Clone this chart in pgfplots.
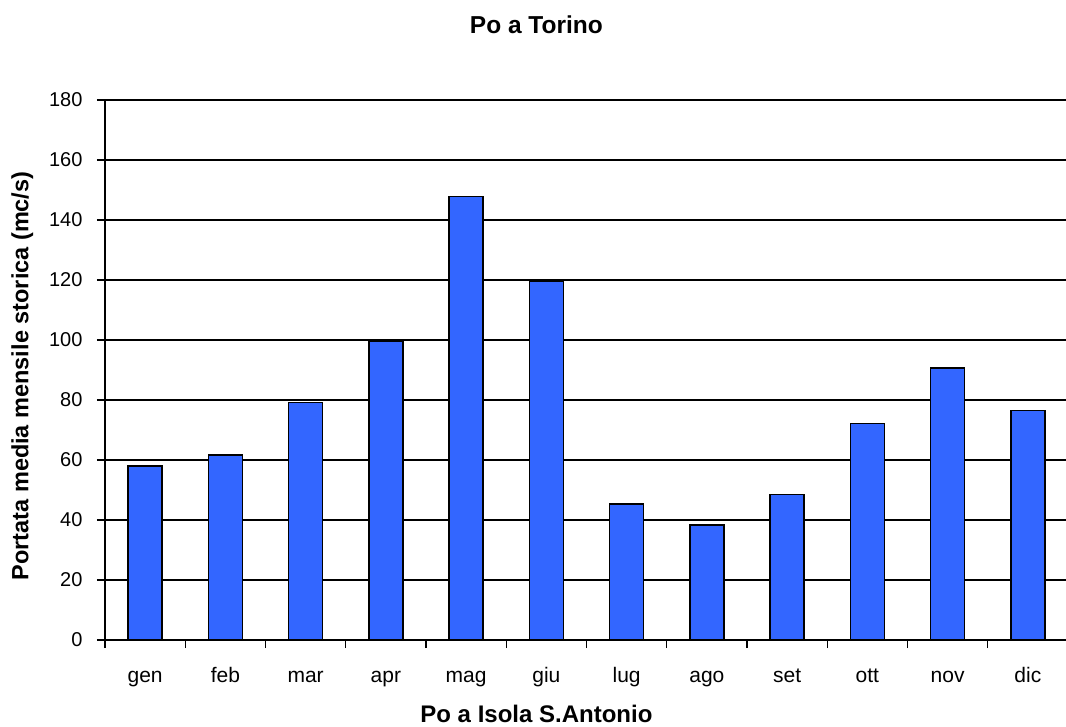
\documentclass[border=0pt]{standalone}
\usepackage{fontspec}
\setmainfont{Liberation Sans}
\usepackage{pgfplots}
\pgfplotsset{compat=1.18}
\definecolor{barblue}{HTML}{3366FF}
\begin{document}
\begin{tikzpicture}
\path[use as bounding box] (-105pt,-86pt) rectangle (961pt,640pt);
\begin{axis}[
  at={(0pt,0pt)}, anchor=south west,
  scale only axis, width=963pt, height=540pt,
  xmin=0.5, xmax=12.5, ymin=0, ymax=180,
  ytick={0,20,...,180},
  xtick={1,...,12},
  xticklabels={gen,feb,mar,apr,mag,giu,lug,ago,set,ott,nov,dic},
  minor xtick={0.5,1.5,...,12.5},
  major x tick style={draw=none},
  tick align=outside,
  major tick length=8pt, minor tick length=8pt,
  tick style={black, line width=1.2pt},
  axis x line*=bottom, axis y line*=left,
  axis line style={black, line width=1.5pt, -},
  ymajorgrids, grid style={black, line width=1.3pt},
  /pgf/number format/assume math mode=true,
  xticklabel style={font=\fontsize{21}{24}\selectfont, anchor=base, yshift=-34pt},
  yticklabel style={font=\fontsize{20}{24}\selectfont, xshift=-11pt},
  title={\textbf{Po a Torino}},
  title style={at={(axis description cs:0.448,1)}, anchor=center, yshift=69pt, font=\fontsize{24.5}{28}\selectfont},
  xlabel={\textbf{Po a Isola S.Antonio}},
  xlabel style={at={(axis description cs:0.448,0)}, anchor=center, yshift=-74pt, font=\fontsize{24}{28}\selectfont},
  ylabel={\textbf{Portata media mensile storica (mc/s)}},
  ylabel style={at={(axis description cs:-0.086,0.489)}, anchor=center, font=\fontsize{23.5}{28}\selectfont},
  clip=false,
]
\addplot[ybar, bar width=34pt, fill=barblue, draw=black, line width=1.4pt]
  coordinates {(1,58) (2,61.6) (3,79.1) (4,99.4) (5,147.8) (6,119.6) (7,45.4) (8,38.3) (9,48.5) (10,72.2) (11,90.7) (12,76.4)};
\end{axis}
\end{tikzpicture}
\end{document}
